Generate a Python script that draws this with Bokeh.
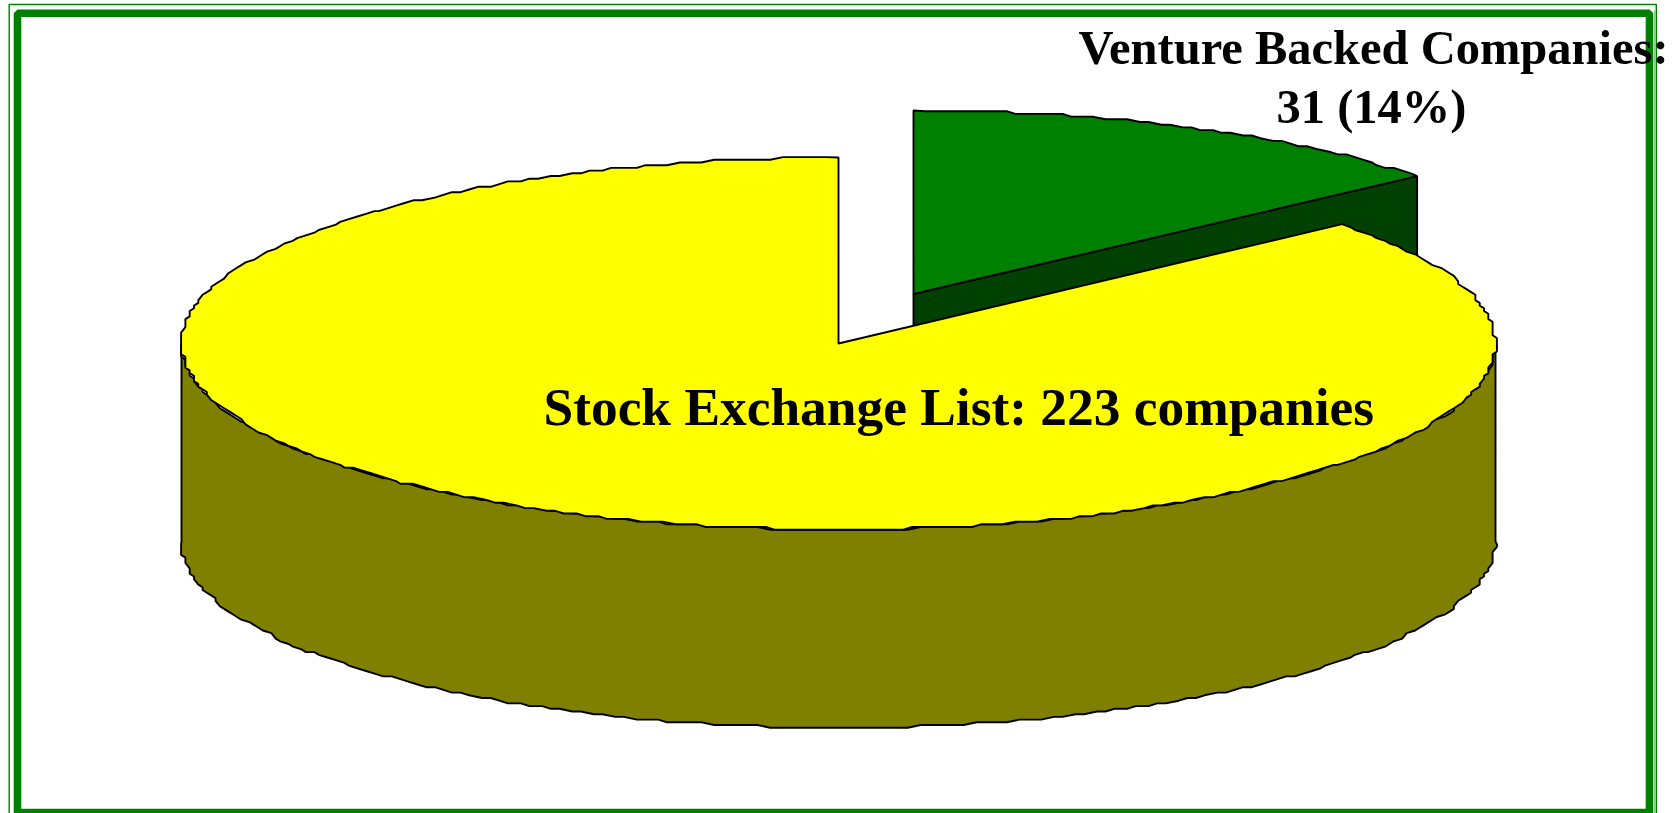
import numpy as np
from bokeh.plotting import figure
from bokeh.models import Range1d
from bokeh.core.properties import value
from bokeh.embed import file_html
from bokeh.resources import INLINE

# Data
total_companies = 223
venture_backed = 31
label_venture = ["Venture Backed Companies:", "31 (14%)"]
label_exchange = ["Stock Exchange List: 223 companies"]

GREEN, DARK = "#008000", "#004000"
YELLOW, OLIVE = "#FFFF00", "#808000"
W, H = 1675, 813

p = figure(width=W, height=H, output_backend="svg", toolbar_location=None,
           x_range=Range1d(0, W), y_range=Range1d(H, 0), min_border=0,
           x_axis_location=None, y_axis_location=None,
           background_fill_color="white", border_fill_color="white",
           styles={"position": "absolute", "left": "0px", "top": "0px"})
p.grid.visible = False
p.outline_line_color = None

# Pie geometry
CX, CY, RX, RY, DEPTH = 838.0, 343.0, 657.0, 186.0, 198.0
OFF_X, OFF_Y, RY_GREEN = 75.0, -49.5, 183.5
sweep = 360.0 * venture_backed / total_companies
A_START = 90.0
A_END = A_START - sweep      # right end of the green slice


def arc(a0, a1, cx=CX, cy=CY, ry=RY, step=1.0, gx=4.3, gy=2.7):
    n = max(2, int(abs(a1 - a0) / step))
    t = np.radians(np.linspace(a0, a1, n + 1))
    x = cx + RX * np.cos(t)
    y = cy - ry * np.sin(t)
    xq = np.round(x / gx) * gx
    yq = np.round(y / gy) * gy
    xq[0], yq[0], xq[-1], yq[-1] = x[0], y[0], x[-1], y[-1]
    return xq, yq


LW = 1.9
# Green slice, pulled out: cut face, then top
gx0, gy0 = CX + OFF_X, CY + OFF_Y
ex = gx0 + RX * np.cos(np.radians(A_END))
ey = gy0 - RY_GREEN * np.sin(np.radians(A_END))
p.patch([gx0, ex, ex, gx0], [gy0, ey, ey + DEPTH, gy0 + DEPTH],
        fill_color=DARK, line_color="black", line_width=LW)
ax, ay = arc(A_START, A_END, gx0, gy0, RY_GREEN)
p.patch(np.r_[gx0, ax], np.r_[gy0, ay], fill_color=GREEN, line_color="black", line_width=LW)

# Yellow slice: wall, then top
bx, by = arc(180, 360)
p.patch(np.r_[bx, bx[::-1]], np.r_[by, by[::-1] + DEPTH], fill_color=OLIVE,
        line_color="black", line_width=LW)
yx, yy = arc(A_START, A_END + 360.0)
p.patch(np.r_[CX, yx], np.r_[CY, yy], fill_color=YELLOW, line_color="black", line_width=LW)

# Frame
p.quad(left=[8.7], right=[1655.8], top=[4], bottom=[830], fill_color=None,
       line_color=GREEN, line_width=1.4)
p.segment([1654.2], [10], [1654.2], [830], line_color="#90C890", line_width=1.6)
p.quad(left=[17], right=[1649], top=[12.8], bottom=[812], fill_color=None,
       line_color=GREEN, line_width=7.6)

# Labels
font = value("Liberation Serif")
p.text([1373], [64 - 17], text=[label_venture[0]], text_font=font, text_font_size="48.5px",
       text_font_style="bold", text_align="center", text_baseline="alphabetic", text_color="black")
p.text([1371], [123 - 17], text=[label_venture[1]], text_font=font, text_font_size="48.5px",
       text_font_style="bold", text_align="center", text_baseline="alphabetic", text_color="black")
p.text([543], [425 - 19], text=label_exchange, text_font=font, text_font_size="53.4px",
       text_font_style="bold", text_align="left", text_baseline="alphabetic", text_color="black")

open("out.html", "w").write(file_html(p, INLINE))
